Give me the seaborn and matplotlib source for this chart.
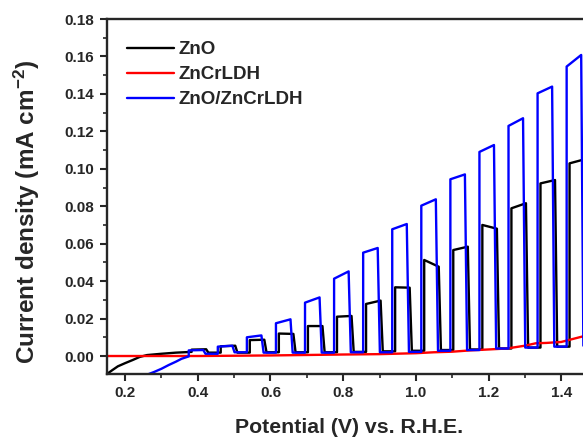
import numpy as np
import pandas as pd
import matplotlib
matplotlib.use("Agg")
import matplotlib.pyplot as plt
from matplotlib.ticker import MultipleLocator
import seaborn as sns

# -------------------------
# Data
# -------------------------
# light-on potentials (V vs RHE), each flash lasts about 0.04 V of the sweep
zno_on = [0.383, 0.463, 0.543, 0.623, 0.703, 0.783, 0.863, 0.943, 1.023, 1.103, 1.183, 1.263, 1.343, 1.423]
zno_top_start = [0.0034, 0.0052, 0.0085, 0.0120, 0.0160, 0.0210, 0.0278, 0.0367, 0.0513, 0.0566, 0.0700, 0.0789, 0.0922, 0.1029]
zno_top_end = [0.0036, 0.0055, 0.0087, 0.0118, 0.0160, 0.0214, 0.0296, 0.0365, 0.0477, 0.0584, 0.0680, 0.0816, 0.0940, 0.1050]
zno_dark = [0.0018, 0.0018, 0.0020, 0.0020, 0.0020, 0.0022, 0.0025, 0.0028, 0.0032, 0.0035, 0.0040, 0.0045, 0.0050, 0.0055]
zno_lead_v = [0.15, 0.165, 0.18, 0.20, 0.22, 0.24, 0.26, 0.30, 0.34, 0.383]
zno_lead_j = [-0.0096, -0.0075, -0.0055, -0.0038, -0.0022, -0.0005, 0.0005, 0.0012, 0.0018, 0.0022]

hyb_on = [0.375, 0.455, 0.535, 0.615, 0.695, 0.775, 0.855, 0.935, 1.015, 1.095, 1.175, 1.255, 1.335, 1.415]
hyb_top_start = [0.0030, 0.0050, 0.0100, 0.0175, 0.0285, 0.0413, 0.0552, 0.0677, 0.0803, 0.0944, 0.1090, 0.1229, 0.1403, 0.1546]
hyb_top_end = [0.0032, 0.0055, 0.0110, 0.0196, 0.0313, 0.0452, 0.0577, 0.0705, 0.0837, 0.0970, 0.1127, 0.1270, 0.1439, 0.1608]
hyb_dark = [0.0012, 0.0020, 0.0018, 0.0018, 0.0018, 0.0020, 0.0020, 0.0022, 0.0028, 0.0032, 0.0040, 0.0045, 0.0050, 0.0055]
hyb_lead_v = [0.26, 0.28, 0.30, 0.32, 0.34, 0.355, 0.375]
hyb_lead_j = [-0.0100, -0.0085, -0.0068, -0.0048, -0.0030, -0.0015, -0.0002]

ldh_v = [0.15, 0.40, 0.60, 0.80, 0.90, 1.00, 1.05, 1.10, 1.15, 1.20, 1.25, 1.30, 1.33, 1.36, 1.40, 1.43, 1.46]
ldh_j = [0.0, 0.0, 0.0003, 0.0008, 0.0010, 0.0015, 0.0020, 0.0023, 0.0030, 0.0035, 0.0040, 0.0055, 0.0068, 0.0070, 0.0075, 0.0090, 0.0105]

flash = 0.04


def chopped(lead_v, lead_j, on, top_start, top_end, dark):
    # square-wave trace: lead-in, then each flash up, across, down to dark level
    v, j = list(lead_v), list(lead_j)
    for k in range(len(on)):
        v += [on[k], on[k] + flash, on[k] + flash + 0.006]
        j += [top_start[k], top_end[k], dark[k]]
        nxt = on[k + 1] if k + 1 < len(on) else on[k] + 0.08
        v += [nxt]
        j += [dark[k]]
    return v, j


zv, zj = chopped(zno_lead_v, zno_lead_j, zno_on, zno_top_start, zno_top_end, zno_dark)
hv, hj = chopped(hyb_lead_v, hyb_lead_j, hyb_on, hyb_top_start, hyb_top_end, hyb_dark)

df = pd.concat([
    pd.DataFrame({"V": zv, "J": zj, "sample": "ZnO"}),
    pd.DataFrame({"V": ldh_v, "J": ldh_j, "sample": "ZnCrLDH"}),
    pd.DataFrame({"V": hv, "J": hj, "sample": "ZnO/ZnCrLDH"}),
])

# -------------------------
# Plot
# -------------------------
sns.set_style("ticks")
plt.rcParams["font.family"] = ["Liberation Sans", "DejaVu Sans"]
plt.rcParams["font.weight"] = "bold"
plt.rcParams["mathtext.fontset"] = "custom"
plt.rcParams["mathtext.rm"] = "Liberation Sans:bold"
plt.rcParams["mathtext.bf"] = "Liberation Sans:bold"
plt.rcParams["mathtext.default"] = "bf"

fig = plt.figure(figsize=(5.83, 4.37), dpi=100)
ax = fig.add_axes([0.1835, 0.1442, 0.8165, 0.8123])

palette = {"ZnO": "black", "ZnCrLDH": "red", "ZnO/ZnCrLDH": "blue"}
sns.lineplot(data=df, x="V", y="J", hue="sample", palette=palette, sort=False,
             estimator=None, linewidth=1.7, ax=ax)

ax.set_xlim(0.15, 1.46)
ax.set_ylim(-0.0096, 0.18)
ax.xaxis.set_minor_locator(MultipleLocator(0.1))
ax.yaxis.set_minor_locator(MultipleLocator(0.01))
ax.set_xticks([0.2, 0.4, 0.6, 0.8, 1.0, 1.2, 1.4])
ax.set_xticklabels(["0.2", "0.4", "0.6", "0.8", "1.0", "1.2", "1.4"])
ax.set_yticks(np.arange(0, 0.19, 0.02))
ax.set_yticklabels(["%.2f" % t for t in np.arange(0, 0.19, 0.02)])

ax.tick_params(which="major", direction="out", length=5, width=1.5, labelsize=11, pad=4)
ax.tick_params(which="minor", direction="out", length=3, width=1.2)
for lab in ax.get_xticklabels() + ax.get_yticklabels():
    lab.set_fontweight("bold")

for s in ["left", "bottom", "top"]:
    ax.spines[s].set_linewidth(1.7)
ax.spines["right"].set_visible(False)

ax.set_xlabel("Potential (V) vs. R.H.E.", fontsize=15.3, fontweight="bold")
ax.xaxis.set_label_coords(0.508, -0.125)
ax.set_ylabel("Current density (mA cm$^{-2}$)", fontsize=17.5, fontweight="bold")
ax.yaxis.set_label_coords(-0.137, 0.455)

leg = ax.legend(loc="upper left", bbox_to_anchor=(0.042, 0.937), frameon=False,
                borderpad=0, borderaxespad=0,
                handlelength=2.5, handletextpad=0.25, labelspacing=0.42,
                prop={"weight": "bold", "size": 13.5})
for line in leg.get_lines():
    line.set_linewidth(1.7)

fig.savefig("out.png", dpi=100)
